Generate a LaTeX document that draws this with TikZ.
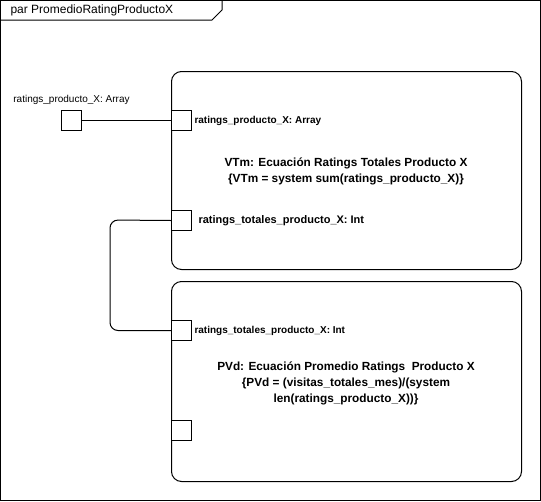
\documentclass[tikz,border=0pt]{standalone}
\usepackage{fontspec}
\setmainfont{Liberation Sans}
\usetikzlibrary{positioning, calc}

\begin{document}
\begin{tikzpicture}[%
    x=1pt, y=-1pt,
    line width=1pt,
    every node/.style={%
      font=\fontsize{11}{13}\selectfont,
      text=black,
      inner sep=0pt
    },
    block/.style={draw=black, rounded corners=10pt, anchor=north west,
      minimum width=350pt},
    port/.style={draw=black, fill=white, anchor=north west, minimum size=20pt},
    bigtext/.style={font=\fontsize{11.8}{16}\selectfont\bfseries, align=center},
    portlabel/.style={font=\fontsize{10}{12}\selectfont\bfseries}
  ]

  \useasboundingbox (0,0) rectangle (541,501);

  % Frame
  \draw[black] (0.5,0.5) rectangle (540,500);
  \draw[black] (0.5,20) -- (212,20) -- (222,10) -- (222,0.5);
  \node[anchor=west, font=\fontsize{12}{14}\selectfont] (title) at (10,10)
    {par PromedioRatingProductoX};

  % Blocks
  \node[block, minimum height=198pt] (vtm) at (171,71) {};
  \node[block, minimum height=200pt] (pvd) at (171,281) {};
  \node[bigtext] (vtmtext) at (346,171)
    {VTm: Ecuación Ratings Totales Producto X\\
     \{VTm = system sum(ratings\_producto\_X)\}};
  \node[bigtext] (pvdtext) at (346,383)
    {PVd: Ecuación Promedio Ratings\ \ Producto X\\
     \{PVd = (visitas\_totales\_mes)/(system\\
     len(ratings\_producto\_X))\}};

  % Ports
  \node[port] (ext) at (61,110) {};
  \node[port] (in1) at (171,110) {};
  \node[port] (out1) at (171,210) {};
  \node[port] (in2) at (171,320) {};
  \node[port] (out2) at (171,420) {};

  \node[font=\fontsize{10}{12}\selectfont, above=5pt of ext] (extlabel)
    {ratings\_producto\_X: Array};
  \node[portlabel, right=2pt of in1] (in1label) {ratings\_producto\_X: Array};
  \node[portlabel, font=\fontsize{11}{13}\selectfont\bfseries, right=6pt of out1]
    (out1label) {ratings\_totales\_producto\_X: Int};
  \node[portlabel, right=2pt of in2] (in2label) {ratings\_totales\_producto\_X: Int};

  % Connectors
  \coordinate (bend) at (110,220);
  \draw[black] (ext.east) -- (in1.west);
  \draw[black, rounded corners=8pt] (out1.west) -- (bend) |- (in2.west);

\end{tikzpicture}
\end{document}
